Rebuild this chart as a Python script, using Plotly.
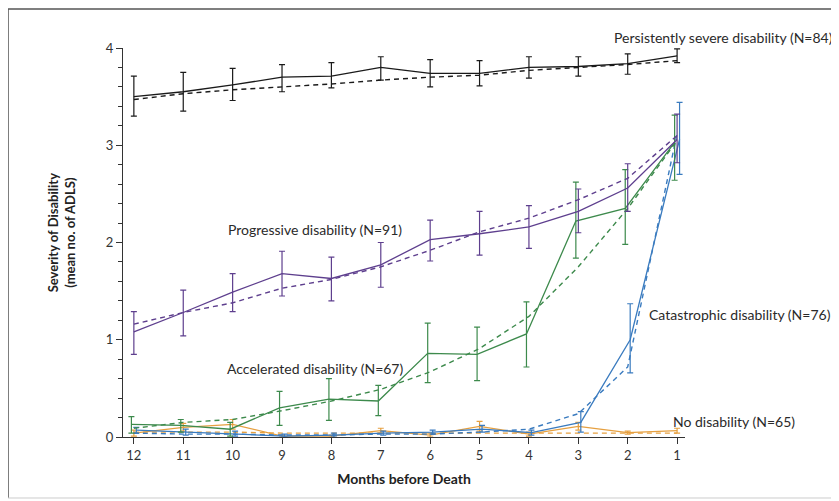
import plotly.graph_objects as go

months = [12, 11, 10, 9, 8, 7, 6, 5, 4, 3, 2, 1]
tick_vals = [12, 11, 10, 9, 8, 7, 6, 5, 4, 3, 2, 1]
tick_text = ["12", "11", "10", "9", "8", "7", "6", "5", "4", "3", "2", "1"]

# Persistently severe disability (N=84)
sev = [3.50, 3.55, 3.62, 3.70, 3.71, 3.80, 3.74, 3.74, 3.80, 3.81, 3.84, 3.92]
sev_hi = [3.71, 3.75, 3.79, 3.83, 3.85, 3.91, 3.88, 3.87, 3.91, 3.91, 3.94, 3.99]
sev_lo = [3.30, 3.35, 3.46, 3.55, 3.59, 3.67, 3.60, 3.61, 3.69, 3.71, 3.73, 3.85]
sev_fit = [3.47, 3.53, 3.57, 3.60, 3.63, 3.67, 3.70, 3.72, 3.77, 3.80, 3.83, 3.87]

# Progressive disability (N=91)
prog = [1.08, 1.28, 1.49, 1.68, 1.63, 1.77, 2.03, 2.09, 2.16, 2.32, 2.56, 3.06]
prog_hi = [1.29, 1.51, 1.68, 1.91, 1.85, 2.00, 2.23, 2.32, 2.38, 2.55, 2.81, 3.32]
prog_lo = [0.85, 1.04, 1.29, 1.45, 1.40, 1.54, 1.81, 1.87, 1.94, 2.10, 2.32, 2.82]
prog_fit = [1.16, 1.28, 1.38, 1.53, 1.62, 1.75, 1.92, 2.11, 2.25, 2.44, 2.66, 3.10]

# Accelerated disability (N=67)
acc = [0.13, 0.12, 0.08, 0.30, 0.39, 0.37, 0.86, 0.85, 1.06, 2.22, 2.35, 3.03]
acc_hi = [0.21, 0.18, 0.15, 0.47, 0.60, 0.53, 1.17, 1.13, 1.39, 2.62, 2.75, 3.31]
acc_lo = [0.04, 0.05, 0.01, 0.12, 0.17, 0.22, 0.56, 0.58, 0.72, 1.84, 1.98, 2.64]
acc_fit = [0.09, 0.15, 0.18, 0.27, 0.37, 0.49, 0.67, 0.91, 1.24, 1.75, 2.35, 3.05]

# Catastrophic disability (N=76)
cat = [0.07, 0.05, 0.03, 0.01, 0.02, 0.04, 0.05, 0.08, 0.045, 0.15, 1.00, 3.06]
cat_hi = [0.10, 0.08, 0.06, 0.03, 0.04, 0.06, 0.07, 0.12, 0.07, 0.26, 1.37, 3.44]
cat_lo = [0.04, 0.02, 0.01, 0.00, 0.00, 0.02, 0.03, 0.05, 0.02, 0.05, 0.66, 2.70]
cat_fit = [0.04, 0.03, 0.03, 0.02, 0.02, 0.03, 0.03, 0.05, 0.08, 0.24, 0.72, 3.12]

# No disability (N=65)
nod = [0.04, 0.10, 0.13, 0.01, 0.01, 0.065, 0.02, 0.11, 0.03, 0.11, 0.045, 0.065]
nod_hi = [0.07, 0.14, 0.18, 0.02, 0.02, 0.09, 0.04, 0.16, 0.05, 0.15, 0.06, 0.09]
nod_lo = [0.01, 0.06, 0.08, 0.00, 0.00, 0.04, 0.00, 0.06, 0.01, 0.07, 0.03, 0.04]
nod_fit = [0.05, 0.05, 0.05, 0.04, 0.04, 0.04, 0.04, 0.04, 0.04, 0.04, 0.04, 0.04]

labels = {
    "sev": "Persistently severe disability (N=84)",
    "prog": "Progressive disability (N=91)",
    "acc": "Accelerated disability (N=67)",
    "cat": "Catastrophic disability (N=76)",
    "nod": "No disability (N=65)",
}

series = [
    ("nod", nod, nod_hi, nod_lo, nod_fit, "#e6a040", 0.0),
    ("cat", cat, cat_hi, cat_lo, cat_fit, "#3a7bbf", -0.05),
    ("acc", acc, acc_hi, acc_lo, acc_fit, "#3d8a4c", 0.05),
    ("prog", prog, prog_hi, prog_lo, prog_fit, "#5e3f8e", 0.0),
    ("sev", sev, sev_hi, sev_lo, sev_fit, "#1a1a1a", 0.0),
]

FONT = "Lato"

fig = go.Figure()
for key, v, hi, lo, fit, color, off in series:
    xs = [m + off for m in months]
    fig.add_trace(go.Scatter(
        x=months, y=fit, mode="lines",
        line=dict(color=color, width=1.4, dash="5px,4px"),
        showlegend=False, hoverinfo="skip", cliponaxis=False))
    fig.add_trace(go.Scatter(
        x=xs, y=v, mode="lines", name=labels[key],
        line=dict(color=color, width=1.3),
        error_y=dict(type="data", symmetric=False,
                     array=[h - a for h, a in zip(hi, v)],
                     arrayminus=[a - l for a, l in zip(v, lo)],
                     color=color, thickness=1.2, width=3),
        showlegend=False, cliponaxis=False))

text_font = dict(family=FONT, size=14, color="#2a2a2a")
ann = [
    dict(xref="paper", yref="paper", x=0.870, y=1.028, text=labels["sev"]),
    dict(xref="x", yref="y", x=10.13, y=2.13, text=labels["prog"]),
    dict(xref="x", yref="y", x=10.15, y=0.70, text=labels["acc"]),
    dict(xref="x", yref="y", x=1.615, y=1.26, text=labels["cat"]),
    dict(xref="x", yref="y", x=1.12, y=0.157, text=labels["nod"]),
]
annotations = [dict(xanchor="left", yanchor="middle",
                    showarrow=False, font=text_font, **a) for a in ann]
annotations.append(dict(
    xref="paper", yref="paper", x=-0.110, y=0.524, textangle=-90,
    text="<b>Severity of Disability</b><br><b>(mean no. of ADLS)</b>",
    showarrow=False, xanchor="center", yanchor="middle",
    font=dict(family=FONT, size=13, color="#222")))

# the page adds an 8px body margin; the figure is sized and offset to compensate
fig.update_layout(
    width=831, height=493,
    margin=dict(l=115, r=154, t=40, b=64),
    paper_bgcolor="white", plot_bgcolor="white",
    annotations=annotations,
    xaxis=dict(
        range=[12.22, 0.84], tickvals=tick_vals, ticktext=tick_text,
        showgrid=False, zeroline=False, showline=True, linecolor="#333", linewidth=1.3,
        ticks="outside", ticklen=6, tickcolor="#333", tickwidth=1.2,
        tickfont=dict(family=FONT, size=13, color="#333"),
        title=dict(text="<b>Months before Death</b>", standoff=12,
                   font=dict(family=FONT, size=14, color="#222")),
    ),
    yaxis=dict(
        range=[0, 4], tickvals=[0, 1, 2, 3, 4], ticktext=["0", "1", "2", "3", "4"],
        showgrid=False, zeroline=False, showline=True, linecolor="#333", linewidth=1.3,
        ticks="outside", ticklen=6, tickcolor="#333", tickwidth=1.2,
        tickfont=dict(family=FONT, size=13, color="#333"),
        minor=dict(dtick=0.2, ticks="outside", ticklen=4, tickcolor="#333", tickwidth=1),
    ),
    shapes=[
        dict(type="line", xref="paper", yref="paper", x0=-0.2046, x1=1.30, y0=1.1003, y1=1.1003,
             line=dict(color="#555", width=1.5)),
        dict(type="line", xref="paper", yref="paper", x0=-0.2046, x1=-0.2046, y0=1.1003, y1=-0.1568,
             line=dict(color="#555", width=1.5)),
        dict(type="line", xref="paper", yref="paper", x0=-0.2046, x1=1.30, y0=-0.1568, y1=-0.1568,
             line=dict(color="#ccc", width=1)),
    ],
)

fig.write_html("out.html")
